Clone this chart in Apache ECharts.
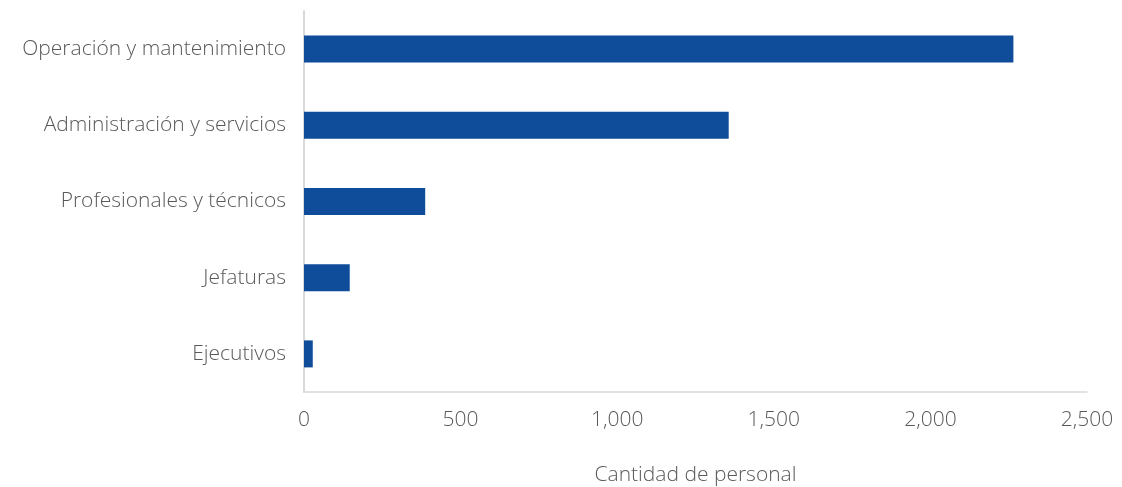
<!DOCTYPE html>
<html>
<head>
<meta charset="utf-8">
<script src="https://cdn.jsdelivr.net/npm/echarts@6/dist/echarts.min.js"></script>
<style>
  html, body { margin: 0; padding: 0; background: #fff; }
  #chart { width: 1122px; height: 487px; }
</style>
</head>
<body>
<div id="chart"></div>
<script>
// Staff headcount by job category (top to bottom)
const categories = [
  'Operación y mantenimiento',
  'Administración y servicios',
  'Profesionales y técnicos',
  'Jefaturas',
  'Ejecutivos'
];
const headcount = [2265, 1356, 387, 146, 28];
const axisTitle = 'Cantidad de personal';

const textColor = '#595959';
const fontFamily = '"Open Sans", Lato, sans-serif';

const chart = echarts.init(document.getElementById('chart'));
chart.setOption({
  animation: false,
  grid: { left: 304, right: 35, top: 11, bottom: 95, containLabel: false, outerBoundsMode: 'none' },
  xAxis: {
    type: 'value',
    min: 0,
    max: 2500,
    interval: 500,
    name: axisTitle,
    nameLocation: 'middle',
    nameGap: 73,
    nameTextStyle: { color: textColor, fontSize: 21, fontFamily, fontWeight: 300 },
    axisLine: { show: true, lineStyle: { color: '#d9d9d9', width: 1.5 } },
    axisTick: { show: false },
    splitLine: { show: false },
    axisLabel: {
      color: textColor, fontSize: 21, fontFamily, fontWeight: 300, margin: 18,
      formatter: v => v.toLocaleString('en-US')
    }
  },
  yAxis: {
    type: 'category',
    data: categories,
    inverse: true,
    axisLine: { show: true, lineStyle: { color: '#d9d9d9', width: 2 } },
    axisTick: { show: false },
    axisLabel: { color: textColor, fontSize: 21, fontFamily, fontWeight: 300, margin: 18 }
  },
  series: [{
    type: 'bar',
    data: headcount,
    barWidth: 27,
    itemStyle: { color: '#0f4c9a' }
  }]
});
</script>
</body>
</html>
